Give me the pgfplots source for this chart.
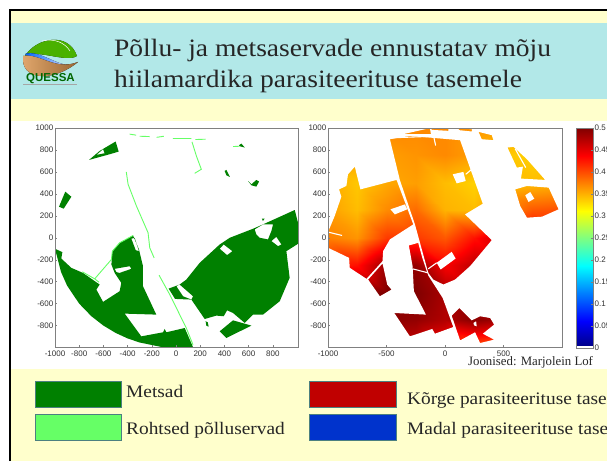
\documentclass[border=0pt]{standalone}
\usepackage{fontspec}
\usepackage{pgfplots}
\pgfplotsset{compat=1.18}
\usepackage{pgfplotstable}
\setmainfont{Liberation Serif}
\newfontfamily\arial{Liberation Sans}
\newfontfamily\wideserif[FakeStretch=1.1]{Liberation Serif}
\definecolor{cream}{HTML}{FFFFCC}
\definecolor{teal1}{HTML}{B2E8E8}
\definecolor{forest}{HTML}{008000}
\definecolor{edge}{HTML}{66FF66}
\definecolor{ax}{HTML}{808080}
\definecolor{tl}{HTML}{333333}
\pgfplotstableread{
x y c
-1000 -1000 .50
-750 -1000 .50
-500 -1000 .48
-250 -1000 .46
0 -1000 .43
250 -1000 .39
500 -1000 .38
750 -1000 .38
1000 -1000 .38
-1000 -750 .50
-750 -750 .50
-500 -750 .495
-250 -750 .49
0 -750 .475
250 -750 .495
500 -750 .48
750 -750 .45
1000 -750 .45
-1000 -500 .50
-750 -500 .50
-500 -500 .50
-250 -500 .50
0 -500 .48
250 -500 .47
500 -500 .47
750 -500 .46
1000 -500 .45
-1000 -250 .42
-750 -250 .43
-500 -250 .49
-250 -250 .49
0 -250 .44
250 -250 .47
500 -250 .47
750 -250 .46
1000 -250 .45
-1000 0 .375
-750 0 .365
-500 0 .41
-250 0 .41
0 0 .395
250 0 .43
500 0 .47
750 0 .45
1000 0 .44
-1000 250 .36
-750 250 .345
-500 250 .37
-250 250 .385
0 250 .35
250 250 .345
500 250 .37
750 250 .395
1000 250 .40
-1000 500 .355
-750 500 .34
-500 500 .355
-250 500 .36
0 500 .345
250 500 .335
500 500 .34
750 500 .345
1000 500 .35
-1000 750 .36
-750 750 .36
-500 750 .36
-250 750 .365
0 750 .37
250 750 .36
500 750 .34
750 750 .335
1000 750 .33
-1000 1000 .37
-750 1000 .37
-500 1000 .37
-250 1000 .37
0 1000 .37
250 1000 .365
500 1000 .36
750 1000 .35
1000 1000 .34
}\fieldtable
\pgfplotstableread{
x y c
0 0.005 0.005
1 0.005 0.005
0 0.0625 0.0625
1 0.0625 0.0625
0 0.125 0.125
1 0.125 0.125
0 0.1875 0.1875
1 0.1875 0.1875
0 0.25 0.25
1 0.25 0.25
0 0.3125 0.3125
1 0.3125 0.3125
0 0.375 0.375
1 0.375 0.375
0 0.4375 0.4375
1 0.4375 0.4375
0 0.5 0.5
1 0.5 0.5
}\bartable
\pgfplotsset{
  mapaxis/.style={
    scale only axis, axis line style={ax,line width=.8pt},
    tick style={ax,line width=.4pt}, major tick length=2pt,
    tick align=inside, xtick pos=bottom, ytick pos=left,
    tick label style={font=\arial\fontsize{8}{9}\selectfont,text=tl,inner sep=1.5pt},
    xticklabel style={yshift=-2pt},
    ymin=-995, ymax=1000,
    ytick={-800,-600,-400,-200,0,200,400,600,800,1000},
    yticklabels={-800,-600,-400,-200,0,200,400,600,800,1000},
    axis on top},
  mycm/.style={colormap/jet},
}
\begin{document}
\begin{tikzpicture}[x=1pt,y=1pt]
\clip (0,0) rectangle (607,461);
\fill[white] (0,0) rectangle (607,461);
\fill[cream] (10,0) rectangle (607,451);
\fill[teal1] (11,362) rectangle (607,438);
\fill[white] (11,92) rectangle (607,340);
\draw[black,line width=2pt] (10,0) -- (10,451) -- (607,451);
% logo
\begin{scope}
\fill[left color=green!55!black!70!yellow,right color=green!60!yellow!70!black] (25,405) .. controls (36,423) and (68,430) .. (77,405) .. controls (66,398) and (38,412) .. (25,405) -- cycle;
\fill[left color=blue!60!cyan,right color=blue!10!white] (25,407) .. controls (40,412) and (60,392) .. (73,397) .. controls (50,380) and (38,398) .. (25,407);
\fill[left color=brown!70!orange!70,right color=brown!80!black] (23,400) .. controls (25,380) and (55,380) .. (78,399) .. controls (55,390) and (40,408) .. (23,405) -- cycle;
\draw[white,line width=.5pt] (42,420) .. controls (55,423) and (65,418) .. (70,410);
\node[anchor=base,inner sep=0,text=green!40!black,font=\arial\bfseries\fontsize{11.5}{12}\selectfont] at (50.5,379) {QUESSA};
\fill[gray!70!white] (23,375.5) rectangle (77,377);
\end{scope}
% title
\node[anchor=base west,inner sep=0,text=black!85] at (114,404) {\wideserif\fontsize{25}{28}\selectfont Põllu- ja metsaservade ennustatav mõju};
\node[anchor=base west,inner sep=0,text=black!85] at (114,373) {\wideserif\fontsize{25}{28}\selectfont hiilamardika parasiteerituse tasemele};
% left map
\begin{axis}[mapaxis, at={(55pt,114pt)}, anchor=south west, width=243pt, height=219pt,
  xmin=-1000, xmax=1008,
  xtick={-1000,-800,-600,-400,-200,0,200,400,600,800},
  xticklabels={-1000,-800,-600,-400,-200,0,200,400,600,800}]
\addplot[fill=forest,draw=none,forget plot,unbounded coords=jump,even odd rule] coordinates {
 (-1000,-100)(-939,-131)(-948,-189)(-865,-274)(-769,-320)(-631,-426)(-658,-472)(-603,-584)(-466,-487)(-452,-411)(-507,-320)(-534,-244)(-526,-122)(-466,-46)(-355,21)(-306,-107)(-273,-259)(-273,-441)(-163,-700)(-424,-691)(-287,-898)(-107,-861)(-94,-831)(-80,-861)(72,-822)(140,-995)(-120,-995)(-300,-954)(-400,-917)(-500,-866)(-600,-800)(-700,-714)(-800,-600)(-900,-436)(-950,-312)
 (nan,nan)(-369,-9)(-342,0)(-306,-122)(-333,-113)
 (nan,nan)(-507,-283)(-383,-259)(-369,-283)(-466,-320)(-493,-313)
 (nan,nan)(-61,-463)(-8,-557)(127,-563)(237,-740)(333,-709)(394,-715)(422,-661)(471,-685)(568,-776)(636,-700)(719,-700)(857,-578)(939,-365)(912,-122)(1008,-55)(1008,137)(981,253)(719,122)(636,82)(444,0)(361,-61)(196,-228)(85,-381)(30,-426)
 (nan,nan)(650,76)(719,122)(802,122)(788,61)(760,-15)(692,0)(664,30)
 (nan,nan)(788,-30)(829,9)(871,-61)(843,-76)
 (nan,nan)(361,-100)(394,-61)(466,-122)(422,-158)
 (nan,nan)(3,-441)(30,-426)(141,-533)(127,-563)(58,-533)
 (nan,nan)(361,-852)(471,-752)(623,-800)(416,-913)
 (nan,nan)(-719,709)(-631,791)(-499,877)(-474,785)(-548,761)
 (nan,nan)(-658,755)(-603,807)(-590,770)
 (nan,nan)(-915,420)(-865,374)(-928,265)(-967,283)
 (nan,nan)(402,609)(416,618)(446,554)(416,569)
 (nan,nan)(595,517)(623,487)(664,527)(686,512)(664,466)(623,478)
 (nan,nan)(521,843)(540,858)(568,822)(526,834)
 (nan,nan)(710,174)(732,174)(718,152)
 (nan,nan)(245,-760)(262,-770)(270,-810)(250,-800)
};
\addplot[edge,line width=.9pt,forget plot,unbounded coords=jump] coordinates {
 (-411,600)(-396,487)(-327,289)(-231,46)(-217,-91)(-181,-183)
 (nan,nan)(-140,-341)(-52,-517)(85,-822)(140,-974)
 (nan,nan)(-383,944)(-330,935)
 (nan,nan)(-300,925)(-218,922)
 (nan,nan)(-160,915)(-100,925)
 (nan,nan)(-25,904)(127,904)
 (nan,nan)(160,895)(245,898)
 (nan,nan)(132,874)(168,746)(209,624)(154,587)
 (nan,nan)(-774,-310)(-672,-374)(-636,-405)(-672,-374)(-534,-198)(-526,-122)(-466,-46)(-355,21)
 (nan,nan)(471,831)(526,834)
};
\end{axis}
% right map
\begin{axis}[mapaxis, mycm, at={(328pt,114pt)}, anchor=south west, width=234pt, height=219pt,
  xmin=-1000, xmax=1000,point meta min=0,point meta max=0.5,
  xtick={-1000,-500,0,500}, xticklabels={-1000,-500,0,500}]
\addplot[surf,shader=interp,mesh/cols=9,mesh/ordering=x varies,point meta=\thisrow{c},forget plot] table[x=x,y=y] {\fieldtable};
\addplot[fill=white,draw=none,forget plot,unbounded coords=jump,even odd rule] coordinates {
 (-1000,-995)(1000,-995)(1000,1000)(-1000,1000)
 (nan,nan)(-1000,52)(-943,198)(-886,374)(-906,441)(-843,472)(-829,578)(-771,648)(-723,441)(-414,527)(-271,122)(-471,-15)(-529,-122)(-534,-213)(-671,-374)(-814,-274)(-820,-183)(-1000,-91)
 (nan,nan)(-466,259)(-343,304)(-323,259)(-429,213)
 (nan,nan)(-534,-234)(-494,-426)(-457,-472)(-557,-533)(-657,-381)
 (nan,nan)(-471,898)(-300,928)(129,889)(323,310)(171,213)(400,-21)(214,-259)(86,-381)(-14,-426)(-100,-381)(-143,-320)(-257,122)(-386,527)
 (nan,nan)(66,578)(157,600)(177,517)(100,496)
 (nan,nan)(-71,-228)(57,-128)(91,-189)(-37,-289)
 (nan,nan)(-357,944)(-129,999)(-120,945)(-257,945)
 (nan,nan)(-114,1000)(29,1000)(29,974)(-114,983)
 (nan,nan)(109,1000)(229,989)(229,968)(123,980)
 (nan,nan)(286,965)(400,935)(414,889)(314,898)
 (nan,nan)(534,822)(586,828)(700,716)(857,527)(649,539)(666,648)(614,639)
 (nan,nan)(600,441)(700,472)(886,457)(971,259)(829,192)(700,183)(643,289)
 (nan,nan)(686,387)(729,417)(763,356)(714,326)
 (nan,nan)(-309,-70)(-229,-46)(-194,-183)(-143,-344)(-20,-548)(71,-813)(-86,-874)(-109,-831)(-300,-898)(-434,-685)(-163,-700)(-266,-487)(-277,-259)
 (nan,nan)(57,-709)(123,-639)(229,-752)(300,-715)(386,-731)(420,-791)(323,-874)(420,-928)(300,-959)(257,-861)(129,-935)
 (nan,nan)(243,-776)(266,-761)(271,-807)(249,-798)
};
\addplot[white,line width=1.1pt,forget plot,unbounded coords=jump] coordinates {
 (-1000,52)(-880,21)
 (nan,nan)(177,578)(229,624)
 (nan,nan)(-143,-283)(-71,-228)
 (nan,nan)(-277,-283)(-143,-320)
 (nan,nan)(-100,940)(-80,840)
 (nan,nan)(600,810)(690,640)
 (nan,nan)(-471,910)(-100,925)
};
\end{axis}
% colourbar
\begin{axis}[mycm, at={(576pt,113pt)}, anchor=south west, scale only axis, width=17pt, height=220pt,
  xmin=0,xmax=1,ymin=0,ymax=0.5,point meta min=0,point meta max=0.5,
  axis on top, axis line style={ax,line width=.8pt}, xtick=\empty,
  ytick={0,0.05,0.1,0.15,0.2,0.25,0.3,0.35,0.4,0.45,0.5},
  yticklabels={0,0.05,0.1,0.15,0.2,0.25,0.3,0.35,0.4,0.45,0.5},
  ytick pos=right, tick align=inside, major tick length=2pt,
  tick style={ax,line width=.4pt}, 
  tick label style={font=\arial\fontsize{8}{9}\selectfont,text=tl,inner sep=1.5pt}]
\addplot[surf,shader=interp,mesh/cols=2,mesh/ordering=x varies,point meta=\thisrow{c},forget plot] table[x=x,y=y] {\bartable};
\end{axis}
\node[anchor=base west,inner sep=0,text=black!85] at (468,95.5) {\fontsize{12.8}{14}\selectfont Joonised: Marjolein Lof};
% legend
\fill[forest] (35,54) rectangle (121,80); \draw[gray!60!teal,line width=.4pt] (35,54) rectangle (121,80);
\fill[edge] (35,21) rectangle (121,47); \draw[gray!60!teal,line width=.4pt] (35,21) rectangle (121,47);
\fill[fill={rgb,255:red,192;green,0;blue,0}] (309,54) rectangle (396,80); \draw[gray!60!teal,line width=.4pt] (309,54) rectangle (396,80);
\fill[fill={rgb,255:red,0;green,51;blue,204}] (309,21) rectangle (396,47); \draw[gray!60!teal,line width=.4pt] (309,21) rectangle (396,47);
\node[anchor=base west,inner sep=0,text=black!85] at (126,64) {\wideserif\fontsize{17.6}{20}\selectfont Metsad};
\node[anchor=base west,inner sep=0,text=black!85] at (126,27) {\wideserif\fontsize{17.6}{20}\selectfont Rohtsed põlluservad};
\node[anchor=base west,inner sep=0,text=black!85] at (407,57) {\wideserif\fontsize{17.6}{20}\selectfont Kõrge parasiteerituse tase};
\node[anchor=base west,inner sep=0,text=black!85] at (407,27) {\wideserif\fontsize{17.6}{20}\selectfont Madal parasiteerituse tase};
\end{tikzpicture}
\end{document}
